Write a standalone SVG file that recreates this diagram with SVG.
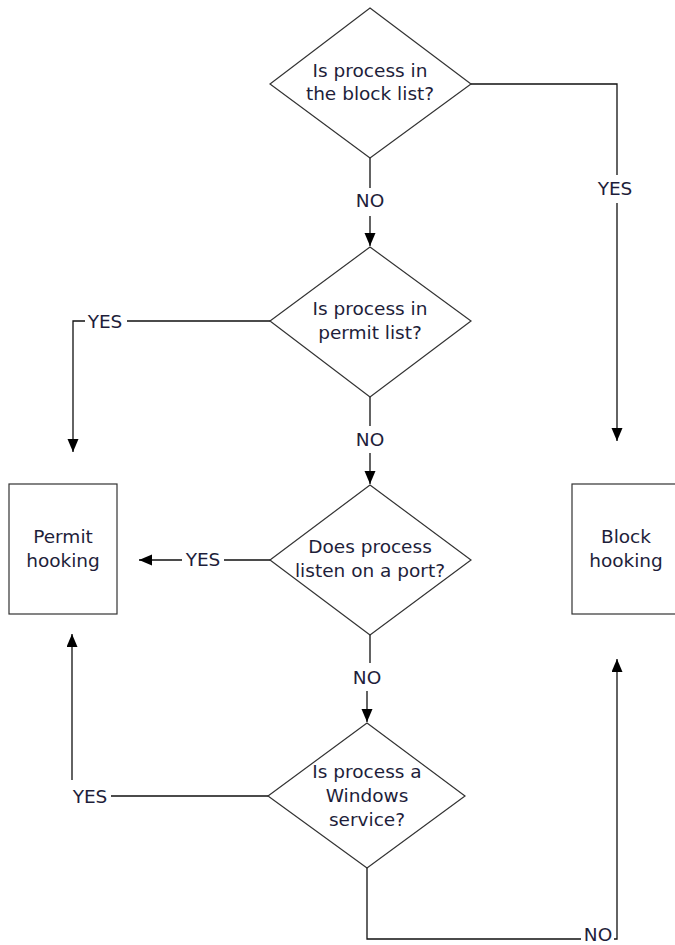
<svg xmlns="http://www.w3.org/2000/svg" width="675" height="945" viewBox="0 0 675 945">
<style>
.shape{fill:#fff;stroke:#333;stroke-width:1.2}
.t{font-family:"DejaVu Sans",Verdana,sans-serif;font-size:18.5px;fill:#1e1e3a;text-anchor:middle}
.c{fill:none;stroke:#111;stroke-width:1.3}
</style>
<defs>
<marker id="arr" markerUnits="userSpaceOnUse" markerWidth="14" markerHeight="12" refX="13" refY="5.5" orient="auto">
<path d="M0,0 L13,5.5 L0,11 z" fill="#000"/>
</marker>
</defs>
<rect width="675" height="945" fill="#fff"/>
<g id="connectors">
<path class="c" d="M370,158 V188 M370,216 V246" marker-end="url(#arr)"/>
<path class="c" d="M471,84 H617 V175 M617,203 V441" marker-end="url(#arr)"/>
<path class="c" d="M270,321 H127 M85,321 H73 V452" marker-end="url(#arr)"/>
<path class="c" d="M370,397 V426 M370,453 V484" marker-end="url(#arr)"/>
<path class="c" d="M270,560 H224 M182,560 H139" marker-end="url(#arr)"/>
<path class="c" d="M370,635 V663 M367,691 V722" marker-end="url(#arr)"/>
<path class="c" d="M268,796 H111 M72,780 V634" marker-end="url(#arr)"/>
<path class="c" d="M367,868 V939 H581 M614,939 H617 V659" marker-end="url(#arr)"/>
<text class="t" x="370" y="207">NO</text>
<text class="t" x="615" y="195">YES</text>
<text class="t" x="105" y="328">YES</text>
<text class="t" x="370" y="446">NO</text>
<text class="t" x="203" y="566">YES</text>
<text class="t" x="367" y="684">NO</text>
<text class="t" x="90" y="803">YES</text>
<text class="t" x="598" y="941">NO</text>
</g>
<g id="d1">
<polygon class="shape" points="370,8 471,84 370,158 270,84"/>
<text class="t" x="370" y="77">Is process in</text>
<text class="t" x="370" y="100">the block list?</text>
</g>
<g id="d2">
<polygon class="shape" points="370,247 471,321 370,397 270,321"/>
<text class="t" x="370" y="315">Is process in</text>
<text class="t" x="370" y="339">permit list?</text>
</g>
<g id="d3">
<polygon class="shape" points="370,485 471,560 370,635 270,560"/>
<text class="t" x="370" y="553">Does process</text>
<text class="t" x="370" y="577">listen on a port?</text>
</g>
<g id="d4">
<polygon class="shape" points="367,723 465,796 367,868 268,796"/>
<text class="t" x="367" y="778">Is process a</text>
<text class="t" x="367" y="802">Windows</text>
<text class="t" x="367" y="826">service?</text>
</g>
<g id="permit">
<rect class="shape" x="9" y="484" width="108" height="130"/>
<text class="t" x="63" y="543">Permit</text>
<text class="t" x="63" y="567">hooking</text>
</g>
<g id="block">
<rect class="shape" x="572" y="484" width="108" height="130"/>
<text class="t" x="626" y="543">Block</text>
<text class="t" x="626" y="567">hooking</text>
</g>
</svg>
